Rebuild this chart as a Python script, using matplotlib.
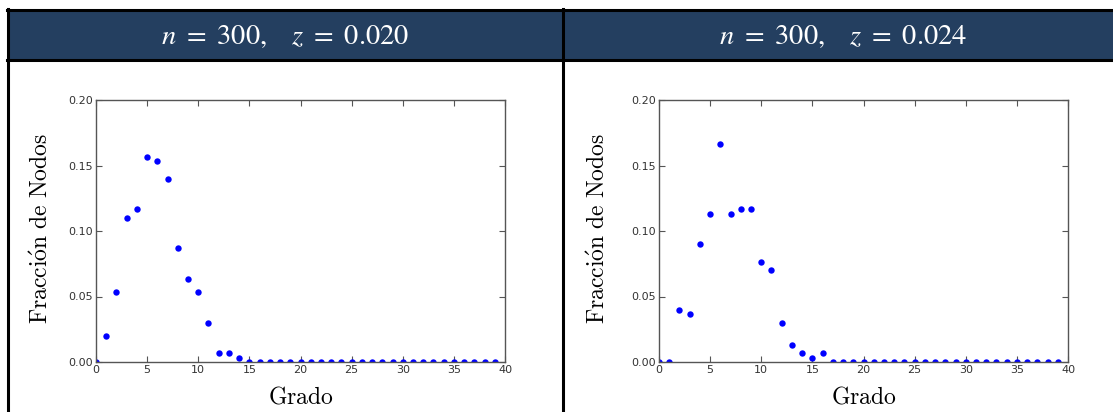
import matplotlib
matplotlib.use("Agg")
import matplotlib.pyplot as plt
from matplotlib.patches import Rectangle
from matplotlib.lines import Line2D

# ---- data ----
grado = list(range(40))
frac_z020 = [0, 6/300, 16/300, 33/300, 35/300, 47/300, 46/300, 42/300, 26/300, 19/300,
             16/300, 9/300, 2/300, 2/300, 1/300] + [0] * 25
frac_z024 = [0, 0, 12/300, 11/300, 27/300, 34/300, 50/300, 34/300, 35/300, 35/300,
             23/300, 21/300, 9/300, 4/300, 2/300, 1/300, 2/300] + [0] * 23
titles = [r'$n\ =\ 300,\ \ \ z\ =\ 0.020$', r'$n\ =\ 300,\ \ \ z\ =\ 0.024$']
series = [frac_z020, frac_z024]
xticks = [0, 5, 10, 15, 20, 25, 30, 35, 40]
yticks = [0.00, 0.05, 0.10, 0.15, 0.20]
xlabel = r'$\mathrm{Grado}$'
ylabel = r'$\mathrm{Fracci\acute{o}n\ de\ Nodos}$'

W, H = 1113, 412
fig = plt.figure(figsize=(W / 100, H / 100), dpi=100)
fig.patch.set_facecolor('white')

def fx(px):
    return px / W

def fy(py):
    return 1 - py / H

header_col = '#243f60'
fig.patches.append(Rectangle((fx(8), fy(60)), fx(1113 - 8), (60 - 10) / H,
                             transform=fig.transFigure, facecolor=header_col,
                             edgecolor='none', zorder=0))
lw = 2.2
fig.lines.append(Line2D([fx(7), fx(1113)], [fy(10), fy(10)], transform=fig.transFigure,
                        color='black', lw=lw))
fig.lines.append(Line2D([fx(7), fx(1113)], [fy(60), fy(60)], transform=fig.transFigure,
                        color='black', lw=lw))
fig.lines.append(Line2D([fx(8), fx(8)], [fy(9), fy(412)], transform=fig.transFigure,
                        color='black', lw=lw))
fig.lines.append(Line2D([fx(563), fx(563)], [fy(9), fy(412)], transform=fig.transFigure,
                        color='black', lw=lw))

header_centers = [285, 843]
ax_lefts = [96, 659]
ax_w = 409
ax_top, ax_bot = 100, 362
ylabel_x = [41, 598]

for i in range(2):
    fig.text(fx(header_centers[i]), fy(36), titles[i], color='white', fontsize=20.5,
             ha='center', va='center', math_fontfamily='stix')
    ax = fig.add_axes([fx(ax_lefts[i]), fy(ax_bot), ax_w / W, (ax_bot - ax_top) / H])
    ax.plot(grado, series[i], 'o', color='#0000ff', markersize=4.6, markeredgewidth=0,
            clip_on=True)
    ax.set_xlim(0, 40)
    ax.set_ylim(0, 0.20)
    ax.set_xticks(xticks)
    ax.set_yticks(yticks)
    ax.set_yticklabels([f'{v:.2f}' for v in yticks])
    ax.tick_params(direction='in', top=True, right=True, length=4, width=0.8,
                   color='#555555', labelsize=8, labelcolor='#333333', pad=2)
    for s in ax.spines.values():
        s.set_color('#555555')
        s.set_linewidth(1.0)
    fig.text(fx(ax_lefts[i] + ax_w / 2), fy(396), xlabel, fontsize=17, ha='center',
             va='center', math_fontfamily='cm')
    fig.text(fx(ylabel_x[i]), fy(228), ylabel, fontsize=17, ha='center', va='center',
             rotation=90, math_fontfamily='cm')

fig.savefig('out.png', dpi=100)
